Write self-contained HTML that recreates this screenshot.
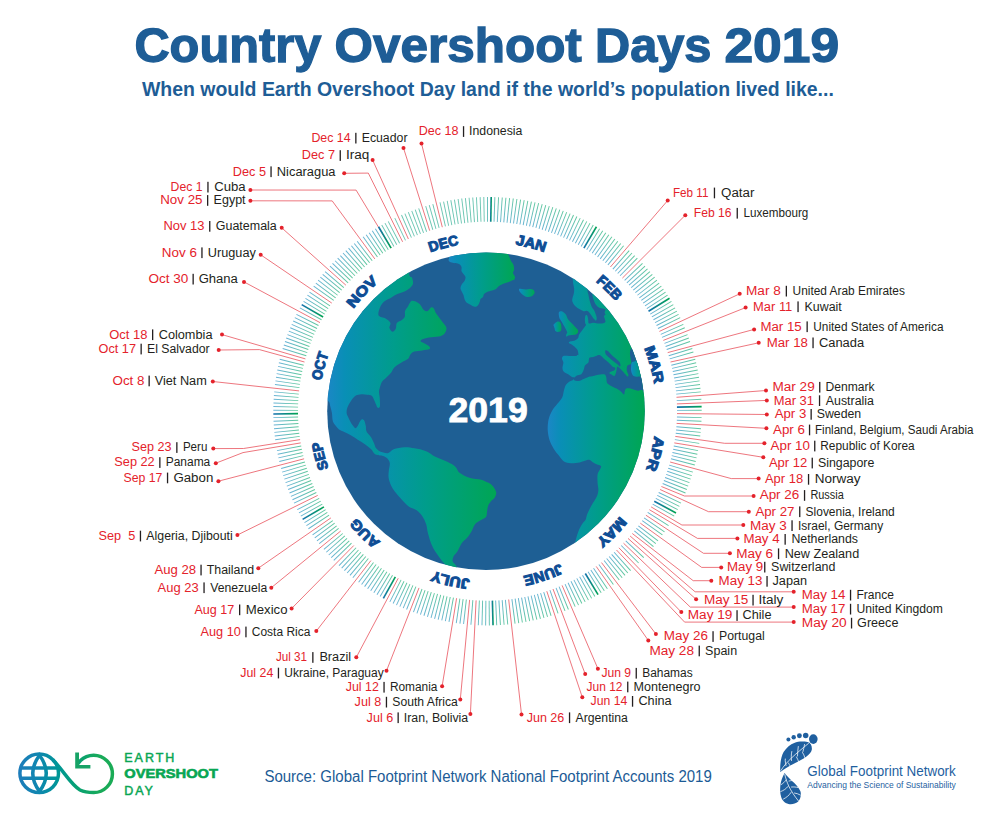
<!DOCTYPE html>
<html><head><meta charset="utf-8"><title>Country Overshoot Days 2019</title>
<style>html,body{margin:0;padding:0;background:#fff;width:1000px;height:815px;overflow:hidden}svg{display:block;font-family:"Liberation Sans",sans-serif}</style>
</head><body>
<svg width="1000" height="815" viewBox="0 0 1000 815">
<defs><linearGradient id="tk" x1="0" y1="0" x2="1" y2="0"><stop offset="0" stop-color="#67b2d7"/><stop offset="1" stop-color="#5ec89a"/></linearGradient><linearGradient id="tkd" x1="0" y1="0" x2="1" y2="0"><stop offset="0" stop-color="#1672b1"/><stop offset="1" stop-color="#00a551"/></linearGradient><linearGradient id="gNA" gradientUnits="userSpaceOnUse" x1="327" y1="0" x2="462" y2="0"><stop offset="0" stop-color="#1b87c6"/><stop offset="0.13" stop-color="#098fb6"/><stop offset="0.5" stop-color="#009d8b"/><stop offset="1" stop-color="#00a651"/></linearGradient><linearGradient id="gSA" gradientUnits="userSpaceOnUse" x1="352" y1="0" x2="500" y2="0"><stop offset="0" stop-color="#1b87c6"/><stop offset="0.13" stop-color="#098fb6"/><stop offset="0.5" stop-color="#009d8b"/><stop offset="1" stop-color="#00a651"/></linearGradient><linearGradient id="gGL" gradientUnits="userSpaceOnUse" x1="448" y1="0" x2="516" y2="0"><stop offset="0" stop-color="#1b87c6"/><stop offset="0.13" stop-color="#098fb6"/><stop offset="0.5" stop-color="#009d8b"/><stop offset="1" stop-color="#00a651"/></linearGradient><linearGradient id="gIC" gradientUnits="userSpaceOnUse" x1="519" y1="0" x2="535" y2="0"><stop offset="0" stop-color="#1b87c6"/><stop offset="0.13" stop-color="#098fb6"/><stop offset="0.5" stop-color="#009d8b"/><stop offset="1" stop-color="#00a651"/></linearGradient><linearGradient id="gEU" gradientUnits="userSpaceOnUse" x1="548" y1="0" x2="646" y2="0"><stop offset="0" stop-color="#1b87c6"/><stop offset="0.13" stop-color="#098fb6"/><stop offset="0.5" stop-color="#009d8b"/><stop offset="1" stop-color="#00a651"/></linearGradient><linearGradient id="gUK" gradientUnits="userSpaceOnUse" x1="558" y1="0" x2="578" y2="0"><stop offset="0" stop-color="#1b87c6"/><stop offset="0.13" stop-color="#098fb6"/><stop offset="0.5" stop-color="#009d8b"/><stop offset="1" stop-color="#00a651"/></linearGradient><linearGradient id="gIR" gradientUnits="userSpaceOnUse" x1="553.5" y1="0" x2="561.5" y2="0"><stop offset="0" stop-color="#1b87c6"/><stop offset="0.13" stop-color="#098fb6"/><stop offset="0.5" stop-color="#009d8b"/><stop offset="1" stop-color="#00a651"/></linearGradient><linearGradient id="gAN" gradientUnits="userSpaceOnUse" x1="631" y1="0" x2="646" y2="0"><stop offset="0" stop-color="#1b87c6"/><stop offset="0.13" stop-color="#098fb6"/><stop offset="0.5" stop-color="#009d8b"/><stop offset="1" stop-color="#00a651"/></linearGradient><clipPath id="gc"><circle cx="486.0" cy="411.25" r="158.8"/></clipPath><linearGradient id="eod" x1="0" y1="0" x2="1" y2="0"><stop offset="0" stop-color="#1f78b8"/><stop offset="1" stop-color="#1aa85a"/></linearGradient><path id="mp" d="M487.5,242.39999999999998 A168.8,168.8 0 1 1 487.5,580.0 A168.8,168.8 0 1 1 487.5,242.39999999999998"/><linearGradient id="eodu" gradientUnits="userSpaceOnUse" x1="18" y1="0" x2="114" y2="0"><stop offset="0" stop-color="#1e7cbb"/><stop offset="0.22" stop-color="#0f87af"/><stop offset="0.42" stop-color="#009696"/><stop offset="0.6" stop-color="#06a074"/><stop offset="0.85" stop-color="#19aa5a"/><stop offset="1" stop-color="#1aab55"/></linearGradient></defs>
<rect width="1000" height="815" fill="#fff"/>
<g font-family="&quot;Liberation Sans&quot;, sans-serif" font-weight="bold" font-size="47.5" fill="#1e5d96" stroke="#1e5d96" stroke-width="1.3">
<text x="134.4" y="61.5" textLength="187.0" lengthAdjust="spacingAndGlyphs">Country</text>
<text x="334.6" y="61.5" textLength="247.2" lengthAdjust="spacingAndGlyphs">Overshoot</text>
<text x="595.0" y="61.5" textLength="116.4" lengthAdjust="spacingAndGlyphs">Days</text>
<text x="724.4" y="61.5" textLength="114.8" lengthAdjust="spacingAndGlyphs">2019</text>
</g>
<text x="142" y="96" font-family="&quot;Liberation Sans&quot;, sans-serif" font-weight="bold" font-size="20" fill="#1e5d96" textLength="691.8" lengthAdjust="spacingAndGlyphs">When would Earth Overshoot Day land if the world’s population lived like...</text>
<g fill="url(#tk)"><polygon points="487.97,221.70 487.97,197.00 487.03,197.00 487.03,221.70"/><polygon points="494.49,221.83 495.34,197.14 494.40,197.11 493.55,221.80"/><polygon points="497.75,221.98 499.03,197.31 498.09,197.26 496.81,221.93"/><polygon points="501.01,222.18 502.71,197.54 501.77,197.48 500.07,222.12"/><polygon points="504.26,222.44 506.38,197.83 505.45,197.75 503.32,222.36"/><polygon points="507.51,222.76 510.05,198.19 509.12,198.09 506.57,222.66"/><polygon points="510.75,223.13 513.72,198.61 512.78,198.50 509.81,223.02"/><polygon points="513.98,223.56 517.37,199.09 516.44,198.96 513.05,223.43"/><polygon points="517.21,224.04 521.02,199.64 520.09,199.49 516.28,223.90"/><polygon points="520.42,224.58 524.65,200.25 523.73,200.09 519.50,224.42"/><polygon points="523.63,225.18 528.28,200.92 527.36,200.74 522.71,225.00"/><polygon points="526.83,225.83 531.89,201.65 530.97,201.46 525.91,225.63"/><polygon points="530.01,226.53 535.49,202.45 534.58,202.24 529.10,226.32"/><polygon points="533.18,227.29 539.08,203.30 538.17,203.08 532.27,227.06"/><polygon points="536.34,228.10 542.65,204.22 541.74,203.98 535.44,227.86"/><polygon points="539.49,228.97 546.21,205.20 545.30,204.95 538.58,228.71"/><polygon points="542.62,229.89 549.74,206.24 548.84,205.97 541.72,229.62"/><polygon points="545.73,230.87 553.26,207.34 552.37,207.06 544.83,230.58"/><polygon points="548.83,231.90 556.76,208.51 555.87,208.20 547.94,231.59"/><polygon points="551.90,232.98 560.24,209.73 559.35,209.41 551.02,232.66"/><polygon points="554.96,234.11 563.70,211.01 562.82,210.68 554.08,233.78"/><polygon points="558.00,235.30 567.13,212.35 566.26,212.00 557.13,234.95"/><polygon points="561.02,236.54 570.54,213.75 569.68,213.39 560.15,236.18"/><polygon points="564.01,237.83 573.93,215.21 573.07,214.83 563.15,237.46"/><polygon points="566.99,239.18 577.29,216.73 576.44,216.34 566.13,238.78"/><polygon points="569.93,240.57 580.62,218.30 579.78,217.89 569.09,240.16"/><polygon points="572.86,242.01 583.93,219.93 583.09,219.51 572.02,241.59"/><polygon points="575.76,243.51 587.21,221.62 586.38,221.19 574.93,243.07"/><polygon points="578.63,245.05 590.46,223.37 589.63,222.92 577.81,244.60"/><polygon points="581.48,246.64 593.68,225.17 592.86,224.70 580.66,246.18"/><polygon points="587.09,249.98 600.02,228.93 599.22,228.44 586.29,249.49"/><polygon points="589.85,251.72 603.14,230.89 602.34,230.39 589.06,251.21"/><polygon points="592.58,253.50 606.22,232.91 605.44,232.39 591.79,252.98"/><polygon points="595.28,255.33 609.27,234.98 608.50,234.45 594.50,254.80"/><polygon points="597.94,257.21 612.29,237.10 611.52,236.56 597.18,256.67"/><polygon points="600.58,259.14 615.27,239.28 614.51,238.72 599.82,258.58"/><polygon points="603.18,261.10 618.21,241.50 617.46,240.93 602.43,260.53"/><polygon points="605.75,263.12 621.11,243.78 620.37,243.19 605.01,262.53"/><polygon points="608.28,265.17 623.97,246.10 623.25,245.51 607.55,264.58"/><polygon points="613.23,269.42 629.57,250.90 628.87,250.28 612.53,268.80"/><polygon points="615.65,271.60 632.31,253.37 631.62,252.73 614.96,270.97"/><polygon points="618.04,273.83 635.01,255.88 634.33,255.24 617.35,273.18"/><polygon points="620.38,276.10 637.66,258.45 636.99,257.79 619.71,275.44"/><polygon points="624.95,280.75 642.83,263.70 642.18,263.02 624.31,280.07"/><polygon points="627.18,283.14 645.34,266.40 644.71,265.71 626.54,282.45"/><polygon points="629.36,285.56 647.81,269.14 647.19,268.44 628.74,284.86"/><polygon points="631.51,288.02 650.24,271.92 649.62,271.21 630.89,287.31"/><polygon points="633.60,290.52 652.61,274.74 652.01,274.02 633.00,289.80"/><polygon points="635.66,293.05 654.93,277.60 654.35,276.87 635.07,292.32"/><polygon points="637.67,295.62 657.21,280.51 656.63,279.76 637.10,294.88"/><polygon points="639.64,298.22 659.43,283.45 658.87,282.69 639.08,297.47"/><polygon points="641.56,300.86 661.61,286.42 661.06,285.66 641.01,300.09"/><polygon points="643.44,303.53 663.73,289.44 663.19,288.67 642.90,302.75"/><polygon points="645.27,306.23 665.80,292.49 665.28,291.71 644.75,305.44"/><polygon points="647.05,308.96 667.82,295.58 667.31,294.79 646.54,308.17"/><polygon points="650.48,314.51 671.69,301.85 671.21,301.05 649.99,313.70"/><polygon points="652.12,317.33 673.54,305.04 673.08,304.22 651.65,316.51"/><polygon points="653.71,320.18 675.34,308.26 674.89,307.44 653.25,319.35"/><polygon points="655.25,323.05 677.09,311.51 676.65,310.68 654.81,322.22"/><polygon points="656.74,325.95 678.77,314.79 678.35,313.95 656.32,325.11"/><polygon points="658.19,328.88 680.41,318.09 680.00,317.25 657.77,328.03"/><polygon points="660.92,334.80 683.50,324.79 683.12,323.93 660.54,333.94"/><polygon points="662.21,337.80 684.96,328.17 684.59,327.31 661.84,336.93"/><polygon points="664.63,343.86 687.70,335.02 687.36,334.14 664.29,342.98"/><polygon points="665.76,346.91 688.98,338.48 688.66,337.59 665.44,346.03"/><polygon points="666.84,349.99 690.20,341.96 689.89,341.07 666.54,349.10"/><polygon points="668.84,356.20 692.46,348.97 692.19,348.08 668.57,355.30"/><polygon points="669.76,359.33 693.50,352.51 693.24,351.61 669.50,358.43"/><polygon points="671.44,365.64 695.40,359.64 695.17,358.73 671.21,364.72"/><polygon points="672.20,368.81 696.26,363.22 696.05,362.31 671.99,367.89"/><polygon points="672.90,371.99 697.05,366.82 696.86,365.91 672.70,371.08"/><polygon points="673.55,375.19 697.79,370.44 697.61,369.52 673.37,374.27"/><polygon points="674.14,378.40 698.46,374.06 698.29,373.14 673.98,377.47"/><polygon points="674.68,381.62 699.06,377.70 698.92,376.77 674.53,380.69"/><polygon points="675.16,384.84 699.61,381.35 699.48,380.42 675.03,383.91"/><polygon points="675.58,388.08 700.09,385.00 699.98,384.07 675.47,387.14"/><polygon points="675.95,391.32 700.51,388.67 700.41,387.73 675.85,390.38"/><polygon points="676.27,394.57 700.87,392.34 700.78,391.40 676.18,393.63"/><polygon points="676.73,401.07 701.39,399.69 701.34,398.75 676.68,400.13"/><polygon points="677.00,410.85 701.70,410.75 701.70,409.81 677.00,409.91"/><polygon points="676.90,417.38 701.59,418.12 701.62,417.18 676.93,416.44"/><polygon points="676.77,420.64 701.44,421.81 701.48,420.87 676.81,419.70"/><polygon points="676.33,427.15 700.95,429.16 701.02,428.23 676.41,426.21"/><polygon points="676.03,430.39 700.61,432.83 700.70,431.90 676.12,429.46"/><polygon points="675.67,433.64 700.20,436.50 700.31,435.57 675.78,432.70"/><polygon points="674.78,440.10 699.20,443.81 699.35,442.88 674.92,439.17"/><polygon points="673.68,446.53 697.96,451.07 698.13,450.15 673.85,445.61"/><polygon points="673.04,449.73 697.24,454.69 697.43,453.77 673.23,448.81"/><polygon points="672.35,452.92 696.46,458.30 696.66,457.38 672.56,452.00"/><polygon points="671.61,456.09 695.62,461.88 695.84,460.97 671.83,455.18"/><polygon points="670.81,459.26 694.71,465.46 694.95,464.55 671.04,458.35"/><polygon points="669.04,465.54 692.72,472.56 692.99,471.66 669.31,464.64"/><polygon points="668.08,468.65 691.64,476.08 691.92,475.19 668.36,467.76"/><polygon points="667.07,471.75 690.49,479.59 690.79,478.70 667.36,470.86"/><polygon points="666.00,474.84 689.28,483.07 689.60,482.19 666.31,473.95"/><polygon points="664.87,477.90 688.02,486.53 688.34,485.65 665.20,477.02"/><polygon points="663.70,480.94 686.69,489.98 687.03,489.10 664.04,480.07"/><polygon points="662.47,483.96 685.30,493.39 685.66,492.52 662.83,483.10"/><polygon points="658.48,492.90 680.80,503.49 681.20,502.64 658.89,492.05"/><polygon points="657.05,495.83 679.18,506.81 679.60,505.96 657.47,494.99"/><polygon points="655.57,498.74 677.51,510.09 677.94,509.26 656.00,497.90"/><polygon points="652.46,504.47 673.99,516.57 674.45,515.75 652.92,503.65"/><polygon points="647.42,512.86 668.30,526.06 668.80,525.27 647.93,512.07"/><polygon points="643.83,518.31 664.24,532.22 664.77,531.44 644.36,517.53"/><polygon points="641.96,520.98 662.13,535.24 662.67,534.47 642.51,520.21"/><polygon points="638.09,526.23 657.76,541.18 658.33,540.43 638.66,525.48"/><polygon points="636.09,528.81 655.50,544.09 656.08,543.35 636.67,528.07"/><polygon points="634.04,531.35 653.18,546.96 653.78,546.23 634.64,530.62"/><polygon points="625.43,541.15 643.45,558.04 644.09,557.35 626.07,540.46"/><polygon points="620.88,545.82 638.30,563.32 638.97,562.66 621.54,545.15"/><polygon points="613.75,552.52 630.25,570.90 630.95,570.27 614.45,551.89"/><polygon points="611.30,554.67 627.48,573.33 628.19,572.72 612.01,554.06"/><polygon points="608.81,556.78 624.67,575.72 625.39,575.12 609.53,556.18"/><polygon points="606.29,558.85 621.82,578.06 622.55,577.47 607.02,558.26"/><polygon points="603.73,560.87 618.92,580.34 619.66,579.77 604.47,560.29"/><polygon points="598.51,564.78 613.02,584.77 613.78,584.22 599.27,564.23"/><polygon points="593.15,568.51 606.97,588.99 607.75,588.46 593.93,567.99"/><polygon points="590.43,570.31 603.90,591.02 604.68,590.50 591.22,569.80"/><polygon points="587.67,572.06 600.78,592.99 601.58,592.49 588.47,571.56"/><polygon points="582.08,575.41 594.46,596.78 595.27,596.31 582.89,574.94"/><polygon points="579.24,577.01 591.25,598.60 592.07,598.14 580.06,576.56"/><polygon points="576.37,578.57 588.01,600.36 588.84,599.91 577.20,578.13"/><polygon points="573.48,580.07 584.74,602.06 585.57,601.63 574.31,579.65"/><polygon points="570.56,581.53 581.44,603.70 582.28,603.29 571.40,581.12"/><polygon points="567.61,582.93 578.11,605.29 578.96,604.89 568.46,582.53"/><polygon points="564.64,584.29 574.76,606.82 575.61,606.44 565.50,583.90"/><polygon points="558.64,586.84 567.97,609.71 568.84,609.36 559.51,586.49"/><polygon points="555.61,588.04 564.54,611.07 565.42,610.73 556.48,587.70"/><polygon points="549.48,590.28 557.62,613.60 558.50,613.29 550.37,589.97"/><polygon points="543.28,592.31 550.61,615.89 551.50,615.61 544.18,592.03"/><polygon points="540.15,593.24 547.07,616.95 547.98,616.69 541.05,592.98"/><polygon points="537.01,594.12 543.52,617.94 544.43,617.70 537.92,593.87"/><polygon points="533.86,594.94 539.96,618.88 540.87,618.65 534.77,594.71"/><polygon points="530.69,595.71 536.37,619.75 537.29,619.53 531.60,595.50"/><polygon points="527.50,596.43 532.78,620.56 533.70,620.36 528.42,596.23"/><polygon points="524.31,597.09 529.17,621.31 530.09,621.12 525.23,596.91"/><polygon points="521.10,597.70 525.54,622.00 526.47,621.83 522.03,597.53"/><polygon points="517.89,598.25 521.91,622.62 522.84,622.47 518.82,598.10"/><polygon points="514.66,598.74 518.27,623.18 519.20,623.04 515.59,598.61"/><polygon points="511.43,599.18 514.61,623.68 515.54,623.56 512.36,599.06"/><polygon points="504.95,599.90 507.28,624.49 508.22,624.40 505.88,599.81"/><polygon points="501.70,600.17 503.61,624.79 504.54,624.72 502.63,600.10"/><polygon points="498.44,600.38 499.93,625.04 500.87,624.98 499.38,600.33"/><polygon points="495.18,600.54 496.25,625.22 497.18,625.18 496.12,600.50"/><polygon points="488.66,600.70 488.87,625.40 489.81,625.39 489.60,600.69"/><polygon points="485.40,600.69 485.19,625.39 486.13,625.40 486.34,600.70"/><polygon points="482.14,600.62 481.50,625.32 482.44,625.34 483.08,600.65"/><polygon points="478.88,600.50 477.82,625.18 478.75,625.22 479.82,600.54"/><polygon points="472.37,600.10 470.46,624.72 471.39,624.79 473.30,600.17"/><polygon points="465.87,599.46 463.12,624.01 464.05,624.11 466.81,599.57"/><polygon points="462.64,599.06 459.46,623.56 460.39,623.68 463.57,599.18"/><polygon points="459.41,598.61 455.80,623.04 456.73,623.18 460.34,598.74"/><polygon points="452.97,597.53 448.53,621.83 449.46,622.00 453.90,597.70"/><polygon points="449.77,596.91 444.91,621.12 445.83,621.31 450.69,597.09"/><polygon points="446.58,596.23 441.30,620.36 442.22,620.56 447.50,596.43"/><polygon points="443.40,595.50 437.71,619.53 438.63,619.75 444.31,595.71"/><polygon points="440.23,594.71 434.13,618.65 435.04,618.88 441.14,594.94"/><polygon points="437.08,593.87 430.57,617.70 431.48,617.94 437.99,594.12"/><polygon points="433.95,592.98 427.02,616.69 427.93,616.95 434.85,593.24"/><polygon points="430.82,592.03 423.50,615.61 424.39,615.89 431.72,592.31"/><polygon points="427.72,591.02 419.99,614.48 420.88,614.78 428.61,591.32"/><polygon points="424.63,589.97 416.50,613.29 417.38,613.60 425.52,590.28"/><polygon points="421.57,588.86 413.03,612.04 413.91,612.36 422.45,589.18"/><polygon points="415.49,586.49 406.16,609.36 407.03,609.71 416.36,586.84"/><polygon points="412.48,585.22 402.76,607.93 403.63,608.30 413.35,585.59"/><polygon points="409.50,583.90 399.39,606.44 400.24,606.82 410.36,584.29"/><polygon points="406.54,582.53 396.04,604.89 396.89,605.29 407.39,582.93"/><polygon points="403.60,581.12 392.72,603.29 393.56,603.70 404.44,581.53"/><polygon points="400.69,579.65 389.43,601.63 390.26,602.06 401.52,580.07"/><polygon points="392.11,574.94 379.73,596.31 380.54,596.78 392.92,575.41"/><polygon points="389.30,573.27 376.56,594.43 377.36,594.92 390.11,573.76"/><polygon points="386.53,571.56 373.42,592.49 374.22,592.99 387.33,572.06"/><polygon points="383.78,569.80 370.32,590.50 371.10,591.02 384.57,570.31"/><polygon points="381.07,567.99 367.25,588.46 368.03,588.99 381.85,568.51"/><polygon points="378.39,566.13 364.21,586.36 364.98,586.90 379.16,566.67"/><polygon points="375.73,564.23 361.22,584.22 361.98,584.77 376.49,564.78"/><polygon points="373.12,562.29 358.26,582.02 359.01,582.58 373.87,562.85"/><polygon points="367.98,558.26 352.45,577.47 353.18,578.06 368.71,558.85"/><polygon points="365.47,556.18 349.61,575.12 350.33,575.72 366.19,556.78"/><polygon points="362.99,554.06 346.81,572.72 347.52,573.33 363.70,554.67"/><polygon points="360.55,551.89 344.05,570.27 344.75,570.90 361.25,552.52"/><polygon points="358.15,549.69 341.33,567.78 342.02,568.42 358.84,550.33"/><polygon points="355.78,547.44 338.66,565.24 339.34,565.89 356.46,548.09"/><polygon points="351.17,542.83 333.45,560.03 334.10,560.70 351.83,543.50"/><polygon points="348.93,540.46 330.91,557.35 331.55,558.04 349.57,541.15"/><polygon points="346.72,538.06 328.41,554.64 329.05,555.33 347.35,538.75"/><polygon points="344.56,535.61 325.97,551.88 326.59,552.58 345.18,536.32"/><polygon points="342.44,533.13 323.57,549.07 324.18,549.79 343.05,533.85"/><polygon points="338.33,528.07 318.92,543.35 319.50,544.09 338.91,528.81"/><polygon points="336.34,525.48 316.67,540.43 317.24,541.18 336.91,526.23"/><polygon points="334.39,522.86 314.47,537.47 315.03,538.23 334.95,523.62"/><polygon points="332.49,520.21 312.33,534.47 312.87,535.24 333.04,520.98"/><polygon points="328.83,514.81 308.19,528.37 308.70,529.16 329.35,515.60"/><polygon points="327.07,512.07 306.20,525.27 306.70,526.06 327.58,512.86"/><polygon points="325.36,509.29 304.26,522.13 304.75,522.93 325.85,510.09"/><polygon points="322.08,503.65 300.55,515.75 301.01,516.57 322.54,504.47"/><polygon points="320.51,500.79 298.78,512.52 299.22,513.35 320.96,501.62"/><polygon points="319.00,497.90 297.06,509.26 297.49,510.09 319.43,498.74"/><polygon points="316.11,492.05 293.80,502.64 294.20,503.49 316.52,492.90"/><polygon points="314.75,489.09 292.25,499.30 292.64,500.15 315.13,489.94"/><polygon points="313.43,486.10 290.77,495.92 291.14,496.78 313.80,486.97"/><polygon points="312.17,483.10 289.34,492.52 289.70,493.39 312.53,483.96"/><polygon points="310.96,480.07 287.97,489.10 288.31,489.98 311.30,480.94"/><polygon points="309.80,477.02 286.66,485.65 286.98,486.53 310.13,477.90"/><polygon points="308.69,473.95 285.40,482.19 285.72,483.07 309.00,474.84"/><polygon points="307.64,470.86 284.21,478.70 284.51,479.59 307.93,471.75"/><polygon points="306.64,467.76 283.08,475.19 283.36,476.08 306.92,468.65"/><polygon points="305.69,464.64 282.01,471.66 282.28,472.56 305.96,465.54"/><polygon points="304.80,461.50 281.00,468.11 281.25,469.02 305.05,462.40"/><polygon points="303.17,455.18 279.16,460.97 279.38,461.88 303.39,456.09"/><polygon points="302.44,452.00 278.34,457.38 278.54,458.30 302.65,452.92"/><polygon points="301.77,448.81 277.57,453.77 277.76,454.69 301.96,449.73"/><polygon points="301.15,445.61 276.87,450.15 277.04,451.07 301.32,446.53"/><polygon points="299.62,435.94 275.14,439.23 275.27,440.16 299.75,436.87"/><polygon points="299.22,432.70 274.69,435.57 274.80,436.50 299.33,433.64"/><polygon points="298.88,429.46 274.30,431.90 274.39,432.83 298.97,430.39"/><polygon points="298.59,426.21 273.98,428.23 274.05,429.16 298.67,427.15"/><polygon points="298.36,422.96 273.72,424.55 273.78,425.49 298.43,423.89"/><polygon points="298.19,419.70 273.52,420.87 273.56,421.81 298.23,420.64"/><polygon points="298.07,416.44 273.38,417.18 273.41,418.12 298.10,417.38"/><polygon points="298.00,409.91 273.30,409.81 273.30,410.75 298.00,410.85"/><polygon points="298.05,406.65 273.36,406.12 273.34,407.06 298.03,407.59"/><polygon points="298.16,403.39 273.48,402.44 273.44,403.38 298.12,404.33"/><polygon points="298.32,400.13 273.66,398.75 273.61,399.69 298.27,401.07"/><polygon points="298.54,396.88 273.91,395.07 273.84,396.01 298.47,397.82"/><polygon points="298.82,393.63 274.22,391.40 274.13,392.34 298.73,394.57"/><polygon points="299.53,387.14 275.02,384.07 274.91,385.00 299.42,388.08"/><polygon points="299.97,383.91 275.52,380.42 275.39,381.35 299.84,384.84"/><polygon points="300.47,380.69 276.08,376.77 275.94,377.70 300.32,381.62"/><polygon points="301.02,377.47 276.71,373.14 276.54,374.06 300.86,378.40"/><polygon points="301.63,374.27 277.39,369.52 277.21,370.44 301.45,375.19"/><polygon points="302.30,371.08 278.14,365.91 277.95,366.82 302.10,371.99"/><polygon points="303.01,367.89 278.95,362.31 278.74,363.22 302.80,368.81"/><polygon points="303.79,364.72 279.83,358.73 279.60,359.64 303.56,365.64"/><polygon points="306.43,355.30 282.81,348.08 282.54,348.97 306.16,356.20"/><polygon points="307.42,352.19 283.93,344.56 283.64,345.46 307.13,353.09"/><polygon points="308.46,349.10 285.11,341.07 284.80,341.96 308.16,349.99"/><polygon points="309.56,346.03 286.34,337.59 286.02,338.48 309.24,346.91"/><polygon points="310.71,342.98 287.64,334.14 287.30,335.02 310.37,343.86"/><polygon points="311.91,339.94 289.00,330.71 288.64,331.59 311.56,340.82"/><polygon points="313.16,336.93 290.41,327.31 290.04,328.17 312.79,337.80"/><polygon points="314.46,333.94 291.88,323.93 291.50,324.79 314.08,334.80"/><polygon points="315.82,330.98 293.42,320.57 293.02,321.43 315.42,331.83"/><polygon points="317.23,328.03 295.00,317.25 294.59,318.09 316.81,328.88"/><polygon points="318.68,325.11 296.65,313.95 296.23,314.79 318.26,325.95"/><polygon points="321.75,319.35 300.11,307.44 299.66,308.26 321.29,320.18"/><polygon points="325.01,313.70 303.79,301.05 303.31,301.85 324.52,314.51"/><polygon points="326.71,310.92 305.72,297.90 305.22,298.70 326.21,311.72"/><polygon points="328.46,308.17 307.69,294.79 307.18,295.58 327.95,308.96"/><polygon points="330.25,305.44 309.72,291.71 309.20,292.49 329.73,306.23"/><polygon points="333.99,300.09 313.94,285.66 313.39,286.42 333.44,300.86"/><polygon points="335.92,297.47 316.13,282.69 315.57,283.45 335.36,298.22"/><polygon points="337.90,294.88 318.37,279.76 317.79,280.51 337.33,295.62"/><polygon points="339.93,292.32 320.65,276.87 320.07,277.60 339.34,293.05"/><polygon points="342.00,289.80 322.99,274.02 322.39,274.74 341.40,290.52"/><polygon points="344.11,287.31 325.38,271.21 324.76,271.92 343.49,288.02"/><polygon points="348.46,282.45 330.29,265.71 329.66,266.40 347.82,283.14"/><polygon points="350.69,280.07 332.82,263.02 332.17,263.70 350.05,280.75"/><polygon points="352.97,277.74 335.39,260.38 334.73,261.05 352.31,278.41"/><polygon points="355.29,275.44 338.01,257.79 337.34,258.45 354.62,276.10"/><polygon points="357.65,273.18 340.67,255.24 339.99,255.88 356.96,273.83"/><polygon points="360.04,270.97 343.38,252.73 342.69,253.37 359.35,271.60"/><polygon points="362.47,268.80 346.13,250.28 345.43,250.90 361.77,269.42"/><polygon points="364.94,266.67 348.92,247.87 348.21,248.48 364.23,267.28"/><polygon points="367.45,264.58 351.75,245.51 351.03,246.10 366.72,265.17"/><polygon points="369.99,262.53 354.63,243.19 353.89,243.78 369.25,263.12"/><polygon points="372.57,260.53 357.54,240.93 356.79,241.50 371.82,261.10"/><polygon points="377.82,256.67 363.48,236.56 362.71,237.10 377.06,257.21"/><polygon points="380.50,254.80 366.50,234.45 365.73,234.98 379.72,255.33"/><polygon points="383.21,252.98 369.56,232.39 368.78,232.91 382.42,253.50"/><polygon points="385.94,251.21 372.66,230.39 371.86,230.89 385.15,251.72"/><polygon points="388.71,249.49 375.78,228.44 374.98,228.93 387.91,249.98"/></g>
<g fill="#6cc6b3"><polygon points="394.34,246.18 382.14,224.70 381.32,225.17 393.52,246.64"/><polygon points="397.19,244.60 385.37,222.92 384.54,223.37 396.37,245.05"/><polygon points="400.07,243.07 388.62,221.19 387.79,221.62 399.24,243.51"/><polygon points="405.91,240.16 395.22,217.89 394.38,218.30 405.07,240.57"/><polygon points="411.85,237.46 401.93,214.83 401.07,215.21 410.99,237.83"/><polygon points="414.85,236.18 405.32,213.39 404.46,213.75 413.98,236.54"/><polygon points="417.87,234.95 408.74,212.00 407.87,212.35 417.00,235.30"/><polygon points="420.92,233.78 412.18,210.68 411.30,211.01 420.04,234.11"/><polygon points="423.98,232.66 415.65,209.41 414.76,209.73 423.10,232.98"/><polygon points="427.06,231.59 419.13,208.20 418.24,208.51 426.17,231.90"/><polygon points="433.28,229.62 426.16,205.97 425.26,206.24 432.38,229.89"/><polygon points="436.42,228.71 429.70,204.95 428.79,205.20 435.51,228.97"/><polygon points="439.56,227.86 433.26,203.98 432.35,204.22 438.66,228.10"/><polygon points="445.90,226.32 440.42,202.24 439.51,202.45 444.99,226.53"/><polygon points="449.09,225.63 444.03,201.46 443.11,201.65 448.17,225.83"/><polygon points="452.29,225.00 447.64,200.74 446.72,200.92 451.37,225.18"/><polygon points="455.50,224.42 451.27,200.09 450.35,200.25 454.58,224.58"/><polygon points="458.72,223.90 454.91,199.49 453.98,199.64 457.79,224.04"/><polygon points="461.95,223.43 458.56,198.96 457.63,199.09 461.02,223.56"/><polygon points="465.19,223.02 462.22,198.50 461.28,198.61 464.25,223.13"/><polygon points="468.43,222.66 465.88,198.09 464.95,198.19 467.49,222.76"/><polygon points="471.68,222.36 469.55,197.75 468.62,197.83 470.74,222.44"/><polygon points="474.93,222.12 473.23,197.48 472.29,197.54 473.99,222.18"/><polygon points="478.19,221.93 476.91,197.26 475.97,197.31 477.25,221.98"/><polygon points="481.45,221.80 480.60,197.11 479.66,197.14 480.51,221.83"/><polygon points="484.71,221.72 484.28,197.02 483.34,197.04 483.77,221.74"/></g>
<circle cx="486.0" cy="411.25" r="158.8" fill="#1e5f94"/>
<g clip-path="url(#gc)">
<path d="M320.0,250.0C334.8,225.0 394.1,246.0 409.0,250.0C423.9,254.0 408.6,269.2 409.1,273.8C409.6,278.4 411.4,276.2 412.0,277.8C412.6,279.4 413.3,281.9 413.0,283.6C412.7,285.3 411.6,286.6 410.0,288.0C408.4,289.4 405.3,291.0 403.2,292.0C401.1,293.0 399.3,293.1 397.3,294.0C395.3,294.9 393.5,296.2 391.4,297.4C389.3,298.6 386.4,299.7 384.5,301.3C382.6,302.9 381.1,304.8 380.1,307.2C379.1,309.6 377.7,313.6 378.6,315.5C379.5,317.4 383.5,317.3 385.5,318.5C387.5,319.7 389.8,321.3 390.4,322.9C391.0,324.4 389.1,326.3 389.4,327.8C389.7,329.3 391.3,331.5 392.4,331.7C393.5,331.9 395.1,330.3 395.8,328.8C396.5,327.3 395.9,324.3 396.8,322.9C397.7,321.5 399.9,321.4 401.2,320.4C402.5,319.4 404.0,318.6 404.7,317.0C405.4,315.4 404.5,312.9 405.1,311.1C405.7,309.3 407.1,307.8 408.1,306.2C409.1,304.6 409.9,302.1 411.0,301.3C412.1,300.5 413.5,300.8 415.0,301.3C416.5,301.8 418.4,302.8 419.9,304.3C421.4,305.8 422.5,309.0 423.8,310.1C425.1,311.2 426.6,311.5 427.7,311.1C428.8,310.7 429.7,308.2 430.7,307.7C431.7,307.2 432.6,307.1 433.6,308.2C434.6,309.3 435.0,311.8 436.5,314.1C438.0,316.4 440.8,319.6 442.4,321.9C444.0,324.2 446.1,325.8 446.4,327.8C446.7,329.8 445.7,332.2 444.4,333.7C443.1,335.2 441.1,336.0 438.5,336.6C435.9,337.2 431.5,337.1 428.7,337.6C425.9,338.1 423.1,339.0 421.8,339.6C420.5,340.2 420.4,340.9 420.8,341.5C421.2,342.1 422.8,342.4 424.2,343.2C425.6,344.0 428.2,345.2 429.1,346.2C430.0,347.2 430.6,348.4 429.5,349.1C428.4,349.8 424.7,350.1 422.2,350.5C419.7,350.9 416.3,350.9 414.3,351.5C412.3,352.1 411.4,353.2 410.4,354.4C409.4,355.5 409.5,357.2 408.4,358.4C407.2,359.5 405.1,360.3 403.5,361.3C401.9,362.3 400.2,363.2 398.6,364.3C397.0,365.4 395.0,366.7 393.7,368.2C392.4,369.7 392.1,371.5 390.8,373.1C389.5,374.7 387.4,376.6 385.9,378.0C384.4,379.4 383.0,380.2 382.0,381.8C381.0,383.4 380.3,386.0 379.8,387.7C379.3,389.4 379.0,390.2 379.0,392.1C379.0,394.0 379.7,396.6 379.8,399.0C379.9,401.4 380.2,405.4 379.8,406.8C379.4,408.2 378.1,408.0 377.5,407.6C376.9,407.2 376.7,406.0 376.1,404.6C375.5,403.2 374.6,401.0 373.9,399.5C373.2,398.0 372.8,396.6 371.7,395.8C370.6,395.0 368.9,394.9 367.2,394.7C365.5,394.4 363.2,394.1 361.3,394.3C359.4,394.5 357.2,394.7 355.5,395.8C353.8,396.9 352.4,398.9 351.0,400.9C349.6,402.9 348.1,405.6 347.4,407.6C346.7,409.6 346.5,411.1 346.6,412.7C346.7,414.3 347.5,415.6 348.1,417.1C348.7,418.6 349.5,420.0 350.3,421.5C351.1,423.0 352.3,424.9 353.2,426.0C354.1,427.1 354.8,428.2 355.5,428.2C356.2,428.2 357.0,427.1 357.7,426.0C358.4,424.9 359.2,422.6 359.9,421.5C360.6,420.4 361.4,419.4 362.1,419.3C362.8,419.2 363.7,419.7 364.3,420.8C364.9,421.9 365.5,424.5 365.8,426.0C366.1,427.5 365.8,428.8 366.1,430.0C366.4,431.2 366.6,431.8 367.5,433.0C368.4,434.2 370.1,435.8 371.2,437.5C372.3,439.2 373.3,441.6 374.1,443.4C374.9,445.2 375.0,446.8 376.1,448.3C377.2,449.8 379.5,451.3 381.0,452.2C382.5,453.1 384.5,453.0 385.0,453.6C385.5,454.2 384.7,455.3 384.0,455.6C383.3,455.9 382.5,455.4 381.0,455.2C379.5,455.0 376.7,455.2 375.1,454.2C373.5,453.2 372.8,450.9 371.2,449.3C369.6,447.7 367.6,446.0 365.3,444.4C363.0,442.8 360.3,441.2 357.4,439.4C354.4,437.6 350.5,435.2 347.6,433.6C344.7,432.0 341.6,430.9 340.0,430.0C338.4,429.1 338.8,429.2 337.8,428.2C336.8,427.2 335.0,425.1 334.1,423.8C333.2,422.5 333.0,422.0 332.6,420.1C332.2,418.2 332.3,414.9 331.9,412.7C331.5,410.5 331.0,408.8 330.4,406.8C329.8,404.8 329.9,402.0 328.2,400.9C326.5,399.8 321.4,425.1 320.0,400.0C318.6,374.9 305.2,275.0 320.0,250.0Z" fill="url(#gNA)"/>
<path d="M379.5,451.8C381.0,451.5 385.4,453.6 387.8,453.2C390.2,452.8 390.9,450.3 393.7,449.3C396.5,448.3 401.1,447.5 404.5,447.3C407.9,447.1 410.7,447.7 414.3,448.3C417.9,448.9 422.5,449.7 426.1,451.2C429.7,452.7 432.3,455.3 435.9,457.1C439.5,458.9 444.4,460.4 447.7,462.0C451.0,463.6 453.6,465.1 455.6,466.9C457.6,468.7 457.2,471.0 459.5,472.8C461.8,474.6 465.7,476.6 469.3,477.7C472.9,478.8 478.3,479.0 481.1,479.7C483.9,480.4 484.5,481.0 486.0,481.7C487.5,482.4 488.6,482.6 489.9,483.6C491.2,484.6 492.8,486.0 493.8,487.5C494.9,489.0 496.0,490.9 496.2,492.5C496.4,494.1 495.7,495.9 494.8,497.4C493.9,498.9 492.0,499.8 490.9,501.3C489.8,502.8 488.6,504.4 488.0,506.2C487.4,508.0 487.3,510.3 487.0,512.1C486.7,513.9 487.0,515.7 486.0,517.0C485.0,518.3 482.9,518.8 481.1,519.9C479.3,521.0 476.8,521.9 475.2,523.9C473.6,525.9 472.6,529.4 471.3,531.7C470.0,534.0 468.9,535.6 467.3,537.6C465.7,539.6 463.1,541.2 461.5,543.5C459.9,545.8 458.8,549.2 457.5,551.3C456.2,553.4 454.4,554.6 453.6,556.3C452.8,557.9 452.3,559.7 452.6,561.2C452.9,562.7 454.8,563.6 455.6,565.1C456.4,566.6 457.1,567.9 457.5,570.0C457.9,572.1 459.4,576.7 458.0,578.0C456.6,579.3 450.4,579.3 449.0,578.0C447.6,576.7 449.9,571.8 449.7,570.0C449.5,568.2 448.7,568.1 447.7,567.0C446.7,565.9 445.4,565.1 443.8,563.1C442.2,561.1 439.9,558.2 437.9,555.3C435.9,552.4 433.6,549.1 432.0,545.5C430.4,541.9 429.1,537.3 428.1,533.7C427.1,530.1 427.1,526.9 426.1,523.9C425.1,520.9 423.8,518.3 422.2,516.0C420.6,513.7 418.6,511.7 416.3,510.1C414.0,508.5 411.0,508.2 408.4,506.2C405.8,504.2 403.2,501.2 400.6,498.3C398.0,495.4 394.7,491.8 392.7,488.5C390.7,485.2 389.4,481.6 388.8,478.7C388.2,475.8 388.6,473.5 388.8,470.9C389.0,468.3 390.1,465.1 389.8,463.0C389.5,460.9 388.2,459.4 386.9,458.1C385.6,456.8 383.3,455.9 382.0,455.4C380.7,454.9 379.4,455.6 379.0,455.0C378.6,454.4 378.0,452.1 379.5,451.8Z" fill="url(#gSA)"/>
<path d="M449.0,252.0C449.0,253.8 449.1,257.2 449.0,258.5C448.9,259.8 448.3,259.4 448.5,260.0C448.7,260.6 449.1,261.5 450.0,262.0C450.9,262.5 452.5,262.7 454.0,263.0C455.5,263.3 457.8,263.3 459.0,264.0C460.2,264.7 461.1,265.8 461.5,267.0C461.9,268.2 461.2,269.8 461.5,271.0C461.8,272.2 462.8,273.0 463.5,274.0C464.2,275.0 465.3,275.8 465.5,277.0C465.7,278.2 465.1,279.8 464.5,281.0C463.9,282.2 462.7,282.8 462.0,284.0C461.3,285.2 460.6,286.8 460.5,288.0C460.4,289.2 461.0,289.8 461.5,291.0C462.0,292.2 463.0,293.7 463.5,295.0C464.0,296.3 464.0,297.8 464.5,299.0C465.0,300.2 465.6,301.6 466.5,302.5C467.4,303.4 468.8,303.8 470.0,304.5C471.2,305.2 472.9,306.2 474.0,306.5C475.1,306.8 475.8,306.8 476.5,306.5C477.2,306.2 477.9,305.4 478.5,304.5C479.1,303.6 479.7,301.9 480.0,301.0C480.3,300.1 480.0,299.7 480.5,299.0C481.0,298.3 482.4,297.8 483.0,297.0C483.6,296.2 483.3,294.8 484.0,294.0C484.7,293.2 485.7,292.6 487.0,292.0C488.3,291.4 490.5,291.0 492.0,290.5C493.5,290.0 494.8,289.8 496.0,289.0C497.2,288.2 497.7,286.9 499.0,286.0C500.3,285.1 502.2,284.2 504.0,283.5C505.8,282.8 508.5,282.1 510.0,281.5C511.5,280.9 512.3,280.2 513.0,280.0C513.7,279.8 513.7,280.5 514.0,280.0C514.3,279.5 515.2,278.2 515.0,277.0C514.8,275.8 513.2,274.2 513.0,273.0C512.8,271.8 513.9,271.3 514.0,270.0C514.1,268.7 514.0,266.5 513.5,265.0C513.0,263.5 511.8,262.5 511.0,261.0C510.2,259.5 509.7,257.5 509.0,256.0C508.3,254.5 507.3,253.3 507.0,252.0C506.7,250.7 516.7,248.7 507.0,248.0C497.3,247.3 458.7,247.3 449.0,248.0C439.3,248.7 449.0,250.2 449.0,252.0Z" fill="url(#gGL)"/>
<path d="M519.0,289.0C518.7,289.5 519.3,291.0 520.0,292.0C520.7,293.0 521.8,294.2 523.0,295.0C524.2,295.8 525.5,296.8 527.0,297.0C528.5,297.2 530.8,296.7 532.0,296.0C533.2,295.3 534.2,294.0 534.5,293.0C534.8,292.0 534.2,290.7 533.5,290.0C532.8,289.3 531.2,289.1 530.0,289.0C528.8,288.9 527.3,289.5 526.0,289.5C524.7,289.5 523.2,289.1 522.0,289.0C520.8,288.9 519.3,288.5 519.0,289.0Z" fill="url(#gIC)"/>
<path d="M572.0,276.4C570.8,276.9 572.5,277.8 572.7,279.0C572.9,280.2 573.0,282.2 573.2,283.8C573.5,285.4 574.1,287.2 574.2,288.9C574.3,290.6 574.0,292.5 573.7,294.1C573.4,295.7 572.6,297.3 572.4,298.5C572.2,299.7 572.1,300.4 572.4,301.5C572.7,302.6 573.4,304.0 574.2,305.1C575.1,306.2 576.3,307.3 577.5,308.1C578.7,308.9 580.1,309.4 581.2,309.9C582.3,310.4 583.4,311.1 584.3,311.2C585.2,311.3 585.7,310.6 586.4,310.7C587.1,310.8 587.8,311.0 588.6,311.8C589.5,312.6 590.6,314.2 591.5,315.4C592.4,316.6 593.4,318.2 594.1,319.1C594.8,320.0 595.5,320.9 595.9,320.7C596.3,320.5 596.8,319.1 596.7,318.0C596.7,316.9 596.0,315.3 595.6,314.0C595.2,312.7 594.7,311.4 594.1,310.3C593.5,309.2 592.5,308.5 591.9,307.3C591.3,306.1 590.8,304.7 590.4,303.3C590.0,301.9 589.6,300.6 589.3,299.2C589.0,297.8 588.7,296.1 588.4,294.8C588.1,293.5 587.7,292.8 587.5,291.3C587.3,289.8 588.4,288.6 587.1,286.0C585.9,283.4 582.5,277.6 580.0,276.0C577.5,274.4 573.2,275.9 572.0,276.4Z" fill="url(#gEU)"/>
<path d="M592.0,285.0C589.1,288.1 592.3,291.5 592.4,293.5C592.5,295.5 592.5,295.7 592.8,297.0C593.1,298.3 593.6,299.8 594.1,301.1C594.6,302.4 595.0,303.7 595.9,304.8C596.8,305.9 598.0,307.1 599.2,307.7C600.4,308.3 602.3,308.2 603.3,308.5C604.3,308.8 605.2,309.1 605.4,309.7C605.6,310.3 604.6,311.6 604.6,312.4C604.6,313.2 605.7,314.0 605.6,314.6C605.5,315.2 604.1,315.4 604.0,316.2C603.9,316.9 604.6,318.1 604.8,319.1C605.0,320.1 605.8,321.4 605.4,322.1C605.0,322.8 603.5,323.3 602.2,323.5C600.9,323.7 598.9,323.6 597.4,323.5C595.9,323.4 594.4,322.8 593.0,322.8C591.6,322.8 589.7,324.0 588.9,323.5C588.1,323.0 588.4,321.1 588.2,319.9C588.0,318.7 587.8,317.0 587.5,316.2C587.2,315.4 586.8,315.1 586.4,315.1C586.0,315.1 585.5,315.4 585.3,316.2C585.0,317.0 584.9,318.7 584.9,319.9C584.9,321.1 585.1,322.6 585.3,323.5C585.5,324.4 586.3,324.2 586.0,325.0C585.7,325.8 584.4,327.2 583.7,328.2C583.0,329.1 582.5,329.9 581.9,330.7C581.3,331.5 580.6,332.3 580.1,333.1C579.6,333.9 579.1,334.8 578.8,335.6C578.5,336.4 578.7,337.3 578.2,338.0C577.7,338.7 576.7,339.4 575.8,339.9C574.9,340.4 573.7,340.8 572.7,341.1C571.7,341.4 570.2,341.4 569.6,341.7C569.0,342.0 568.6,342.4 569.0,342.9C569.4,343.4 571.0,344.0 572.1,344.8C573.2,345.6 574.9,347.0 575.8,347.9C576.7,348.8 577.2,348.8 577.6,350.0C578.0,351.2 578.6,354.0 578.3,355.0C578.0,356.0 577.4,355.8 575.9,355.9C574.4,356.0 571.3,355.9 569.2,355.9C567.1,355.9 564.6,355.4 563.4,355.9C562.2,356.4 562.0,357.7 562.0,358.8C562.0,359.9 563.3,361.0 563.4,362.6C563.5,364.2 562.3,366.8 562.5,368.4C562.7,370.0 563.4,371.2 564.4,372.2C565.4,373.2 566.9,373.4 568.2,374.2C569.5,375.0 571.1,376.4 572.1,377.0C573.1,377.6 574.4,377.0 574.5,377.5C574.6,378.0 573.9,379.3 573.0,380.0C572.1,380.7 570.4,381.0 569.2,381.8C568.0,382.6 566.7,383.6 565.8,385.0C564.9,386.4 564.6,388.3 564.0,390.3C563.4,392.3 563.4,394.9 562.3,397.2C561.2,399.5 558.9,401.8 557.2,404.1C555.5,406.4 553.4,408.3 552.0,410.9C550.6,413.5 549.3,416.4 548.6,419.5C547.9,422.6 547.6,426.4 547.7,429.8C547.9,433.2 548.5,437.0 549.5,440.1C550.5,443.2 552.1,446.1 553.7,448.7C555.3,451.3 557.2,453.5 558.9,455.6C560.6,457.8 562.0,460.3 564.0,461.6C566.0,462.9 568.3,463.2 570.9,463.3C573.5,463.4 577.2,462.9 579.5,462.5C581.8,462.1 583.0,461.2 584.7,460.8C586.4,460.4 588.4,459.6 589.8,459.9C591.2,460.2 592.1,461.8 593.3,462.5C594.4,463.2 595.4,463.6 596.7,464.2C598.0,464.8 600.4,465.0 601.0,465.9C601.6,466.8 600.7,467.9 600.1,469.3C599.5,470.7 598.0,472.2 597.6,474.5C597.2,476.8 597.5,480.5 597.6,483.1C597.7,485.7 598.5,487.7 598.4,490.0C598.2,492.3 597.9,494.2 596.7,496.8C595.6,499.4 593.1,502.5 591.5,505.4C589.9,508.3 588.3,511.6 587.3,514.0C586.3,516.4 586.4,518.4 585.5,520.0C584.6,521.6 583.4,521.9 582.2,523.9C581.0,525.9 579.6,528.1 578.3,531.7C577.0,535.3 575.3,541.4 574.3,545.4C573.2,549.4 561.0,553.6 572.0,556.0C583.0,558.4 623.7,582.7 640.0,560.0C656.3,537.3 668.3,463.3 670.0,420.0C671.7,376.7 660.0,324.2 650.0,300.0C640.0,275.8 619.7,277.5 610.0,275.0C600.3,272.5 594.9,281.9 592.0,285.0Z" fill="url(#gEU)"/>
<path d="M558.9,312.3C558.5,313.3 558.9,315.9 559.2,317.2C559.5,318.5 560.2,319.3 560.7,320.2C561.2,321.1 561.8,321.8 562.3,322.7C562.8,323.6 563.3,324.6 563.8,325.5C564.3,326.4 564.8,327.3 565.3,328.2C565.8,329.1 566.3,330.0 566.6,330.7C566.9,331.4 567.3,331.9 567.3,332.5C567.2,333.1 566.4,333.7 566.3,334.4C566.1,335.1 566.0,336.4 566.4,336.6C566.8,336.8 567.5,335.8 568.4,335.5C569.2,335.2 570.3,335.2 571.5,335.0C572.7,334.8 574.7,334.8 575.8,334.4C576.9,334.0 577.5,333.2 577.9,332.5C578.2,331.8 578.3,331.0 577.9,330.1C577.5,329.2 576.3,328.2 575.5,327.3C574.7,326.4 573.9,325.5 573.0,324.5C572.1,323.5 570.8,322.5 569.9,321.5C569.0,320.5 568.1,319.4 567.5,318.4C566.9,317.4 566.8,316.2 566.3,315.3C565.8,314.4 565.2,313.7 564.4,313.0C563.6,312.3 562.6,311.4 561.7,311.3C560.8,311.2 559.3,311.3 558.9,312.3Z" fill="url(#gUK)"/>
<path d="M553.7,324.5C554.0,324.0 554.8,323.2 555.5,322.7C556.2,322.2 557.2,321.5 558.0,321.5C558.8,321.5 559.9,322.0 560.4,322.7C560.9,323.4 561.1,324.7 561.3,325.8C561.4,326.9 561.4,328.5 561.3,329.4C561.1,330.3 561.0,330.9 560.4,331.3C559.8,331.7 558.3,332.0 557.4,331.9C556.5,331.8 555.7,331.3 555.2,330.7C554.7,330.1 554.9,329.0 554.6,328.2C554.4,327.4 553.9,326.4 553.7,325.8C553.6,325.2 553.4,325.0 553.7,324.5Z" fill="url(#gIR)"/>
<path d="M574.5,377.5C575.0,376.8 575.9,376.1 576.9,375.6C577.9,375.1 579.8,375.2 580.7,374.6C581.7,374.0 582.0,373.2 582.6,372.2C583.2,371.2 583.7,369.5 584.1,368.4C584.5,367.3 584.3,366.5 585.0,365.5C585.7,364.5 587.7,363.9 588.4,362.6C589.1,361.3 588.6,358.8 589.4,357.8C590.2,356.9 592.1,357.2 593.2,356.9C594.3,356.6 595.1,356.2 596.1,355.9C597.1,355.6 598.4,354.8 599.4,355.0C600.4,355.2 601.3,356.1 602.3,356.9C603.3,357.7 604.2,358.9 605.2,359.8C606.2,360.8 607.4,361.5 608.6,362.6C609.8,363.7 611.3,365.6 612.4,366.5C613.5,367.4 615.0,367.3 615.3,367.9C615.6,368.5 615.2,369.6 614.4,370.2C613.6,370.8 611.6,371.2 610.7,371.7C609.9,372.2 609.2,372.6 609.3,373.1C609.4,373.6 610.6,374.1 611.5,374.6C612.4,375.1 613.7,376.4 614.4,376.1C615.1,375.9 615.5,374.2 615.9,373.1C616.3,372.0 616.4,370.6 616.6,369.5C616.9,368.4 616.8,366.6 617.4,366.5C618.0,366.4 619.3,367.8 620.3,368.7C621.3,369.6 622.2,370.6 623.2,371.7C624.2,372.8 625.5,374.5 626.2,375.3C627.0,376.1 627.3,376.6 627.7,376.5C628.1,376.4 628.5,375.5 628.4,374.6C628.3,373.7 627.1,372.1 626.9,370.9C626.6,369.7 626.8,368.1 626.9,367.2C627.0,366.3 627.1,365.9 627.7,365.4C628.3,364.9 630.0,364.9 630.6,364.3C631.2,363.8 631.3,363.1 631.3,362.1C631.3,361.1 630.8,359.9 630.6,358.4C630.4,356.9 629.9,354.8 629.9,353.3C629.9,351.8 630.2,350.5 630.6,349.6C631.0,348.7 631.2,348.7 632.1,348.1C633.0,347.5 632.7,345.7 636.0,346.0C639.3,346.3 649.3,342.3 652.0,350.0C654.7,357.7 653.7,385.3 652.0,392.0C650.3,398.7 643.9,390.3 641.7,390.1C639.5,389.9 639.8,390.8 638.7,390.8C637.6,390.8 636.4,390.5 635.0,390.1C633.6,389.7 632.1,388.9 630.6,388.6C629.1,388.4 627.2,388.1 626.2,388.6C625.2,389.1 625.1,390.5 624.7,391.5C624.3,392.5 624.6,394.5 624.0,394.5C623.4,394.5 622.2,392.5 621.0,391.5C619.8,390.5 618.3,389.6 616.6,388.6C614.9,387.6 612.3,386.7 610.7,385.7C609.1,384.7 607.7,384.0 607.0,382.7C606.3,381.4 606.7,379.0 606.3,377.6C605.9,376.2 605.8,375.1 604.8,374.6C603.8,374.1 601.9,374.5 600.4,374.6C598.9,374.7 597.2,375.1 596.0,375.3C594.8,375.6 594.5,375.8 593.2,376.1C591.9,376.4 590.0,376.5 588.4,377.0C586.8,377.5 585.2,378.4 583.6,379.0C582.0,379.6 580.4,380.8 578.8,380.9C577.2,381.0 574.7,380.5 574.0,379.9C573.3,379.3 574.0,378.2 574.5,377.5Z" fill="#1e5f94"/>
<path d="M605.6,350.3C606.0,350.2 606.7,350.1 607.8,351.0C608.9,351.9 610.6,354.0 612.2,355.5C613.8,357.0 616.2,358.8 617.4,359.9C618.6,361.0 619.1,361.2 619.6,362.1C620.1,363.0 620.5,364.8 620.5,365.5C620.5,366.2 620.1,366.7 619.6,366.5C619.1,366.3 618.4,365.2 617.4,364.3C616.4,363.4 615.1,362.5 613.7,361.4C612.4,360.3 610.6,358.9 609.3,357.7C608.0,356.5 606.6,355.4 605.9,354.4C605.2,353.4 605.2,352.5 605.2,351.8C605.2,351.1 605.2,350.4 605.6,350.3Z" fill="#1e5f94"/>
<path d="M631.3,364.3C631.4,363.7 631.6,362.6 632.1,362.1C632.6,361.6 633.4,361.6 634.3,361.4C635.1,361.1 636.2,360.6 637.2,360.6C638.2,360.6 638.1,361.5 640.2,361.4C642.3,361.3 648.4,356.9 650.0,360.0C651.6,363.1 651.5,377.2 650.0,380.0C648.5,382.8 643.0,377.3 640.9,376.8C638.8,376.3 638.4,376.9 637.2,376.8C636.0,376.7 634.5,376.7 633.6,376.1C632.7,375.5 632.1,374.2 631.7,373.1C631.3,372.0 631.1,370.7 631.0,369.5C630.9,368.3 631.2,366.7 631.2,365.8C631.2,364.9 631.1,364.9 631.3,364.3Z" fill="url(#gAN)"/>
</g>
<text x="448.5" y="421.9" font-family="&quot;Liberation Sans&quot;, sans-serif" font-weight="bold" font-size="34.5" fill="#fff" stroke="#fff" stroke-width="0.8" textLength="79.2" lengthAdjust="spacingAndGlyphs">2019</text>
<g font-family="&quot;Liberation Sans&quot;, sans-serif" font-weight="bold" font-size="14.3" fill="#0e4d95" stroke="#0e4d95" stroke-width="1.05"><text><textPath href="#mp" startOffset="27.8" textLength="30.4" lengthAdjust="spacingAndGlyphs">JAN</textPath></text><text><textPath href="#mp" startOffset="117.5" textLength="28.0" lengthAdjust="spacingAndGlyphs">FEB</textPath></text><text><textPath href="#mp" startOffset="200.4" textLength="37.3" lengthAdjust="spacingAndGlyphs">MAR</textPath></text><text><textPath href="#mp" startOffset="290.1" textLength="34.3" lengthAdjust="spacingAndGlyphs">APR</textPath></text><text><textPath href="#mp" startOffset="378.2" textLength="34.3" lengthAdjust="spacingAndGlyphs">MAY</textPath></text><text><textPath href="#mp" startOffset="455.2" textLength="39.2" lengthAdjust="spacingAndGlyphs">JUNE</textPath></text><text><textPath href="#mp" startOffset="547.8" textLength="38.1" lengthAdjust="spacingAndGlyphs">JULY</textPath></text><text><textPath href="#mp" startOffset="646.1" textLength="34.1" lengthAdjust="spacingAndGlyphs">AUG</textPath></text><text><textPath href="#mp" startOffset="737.2" textLength="27.6" lengthAdjust="spacingAndGlyphs">SEP</textPath></text><text><textPath href="#mp" startOffset="825.9" textLength="27.8" lengthAdjust="spacingAndGlyphs">OCT</textPath></text><text><textPath href="#mp" startOffset="905.4" textLength="36.4" lengthAdjust="spacingAndGlyphs">NOV</textPath></text><text><textPath href="#mp" startOffset="1002.0" textLength="29.7" lengthAdjust="spacingAndGlyphs">DEC</textPath></text></g>
<g fill="none" stroke="#e6404b" stroke-width="0.72"><polyline points="667.7,200.5 610.4,267.0"/><polyline points="685.3,215.2 622.4,278.1"/><polyline points="739.7,293.8 659.4,331.4"/><polyline points="745.6,307.6 663.3,340.4"/><polyline points="754.1,329.4 667.7,352.6"/><polyline points="758.7,342.8 670.5,362.0"/><polyline points="766.0,390.5 676.5,397.3"/><polyline points="766.8,400.4 676.9,403.9"/><polyline points="766.8,414.5 677.0,413.6"/><polyline points="766.4,428.3 676.6,423.4"/><polyline points="764.4,443.3 724.6,443.3 675.3,436.4"/><polyline points="763.3,457.3 674.3,442.9"/><polyline points="758.6,478.6 731.3,478.6 670.1,462.0"/><polyline points="753.6,496.0 684.5,496.0 661.4,486.5"/><polyline points="748.8,511.7 708.5,511.7 660.1,489.5"/><polyline points="743.3,525.0 681.9,525.0 651.1,506.9"/><polyline points="737.4,538.4 697.5,538.4 649.4,509.7"/><polyline points="729.9,553.3 703.5,553.3 645.9,515.2"/><polyline points="721.2,567.4 701.7,567.4 640.3,523.2"/><polyline points="711.3,580.7 693.2,580.7 632.3,533.5"/><polyline points="793.7,591.8 695.1,591.8 630.1,536.0"/><polyline points="696.1,599.3 628.0,538.4"/><polyline points="793.7,607.1 690.3,607.1 623.5,543.2"/><polyline points="681.3,612.1 618.9,547.8"/><polyline points="793.7,622.1 684.6,622.1 616.5,550.0"/><polyline points="655.9,634.0 601.5,562.6"/><polyline points="648.3,640.4 596.2,566.4"/><polyline points="597.9,668.7 562.1,585.4"/><polyline points="585.2,674.0 553.0,589.0"/><polyline points="582.3,697.3 546.8,591.2"/><polyline points="521.5,714.4 508.7,599.5"/><polyline points="421.5,143.5 442.3,227.2"/><polyline points="470.4,713.9 476.1,600.4"/><polyline points="460.3,699.5 469.6,599.9"/><polyline points="442.1,686.3 456.6,598.2"/><polyline points="386.5,670.8 419.0,587.9"/><polyline points="356.3,657.3 398.2,578.3"/><polyline points="316.3,631.1 370.9,560.6"/><polyline points="291.6,608.5 353.8,545.5"/><polyline points="271.3,587.7 340.7,531.0"/><polyline points="258.3,568.2 330.9,517.9"/><polyline points="237.4,535.0 317.7,495.4"/><polyline points="218.4,481.2 304.1,458.8"/><polyline points="215.8,463.2 243.0,452.6 300.7,442.9"/><polyline points="213.3,448.6 243.5,448.5 300.1,439.6"/><polyline points="212.8,381.5 299.1,390.9"/><polyline points="218.7,350.0 259.4,349.6 304.5,362.0"/><polyline points="222.0,334.6 305.4,358.9"/><polyline points="244.0,281.9 320.0,322.6"/><polyline points="260.7,254.8 331.8,303.1"/><polyline points="281.7,227.8 345.9,285.2"/><polyline points="250.4,200.8 332.2,200.9 374.8,258.9"/><polyline points="250.4,190.0 356.1,190.1 391.1,248.0"/><polyline points="344.2,173.3 368.3,173.1 402.6,241.8"/><polyline points="372.6,160.0 408.4,239.0"/><polyline points="403.5,148.0 429.7,230.7"/></g>
<g fill="url(#tkd)"><polygon points="491.58,221.74 492.01,197.05 490.37,197.02 489.94,221.71"/><polygon points="391.81,247.63 379.25,226.37 377.84,227.20 390.40,248.46"/><polygon points="323.52,316.21 302.10,303.92 301.28,305.34 322.71,317.63"/><polygon points="298.01,412.83 273.31,413.15 273.33,414.79 298.03,414.47"/><polygon points="323.52,506.18 302.20,518.65 303.03,520.07 324.35,507.60"/><polygon points="394.63,576.39 382.62,597.97 384.06,598.77 396.07,577.19"/><polygon points="491.57,600.66 492.21,625.35 493.85,625.31 493.21,600.62"/><polygon points="584.59,573.94 597.34,595.10 598.74,594.25 586.00,573.09"/><polygon points="653.87,501.92 675.61,513.66 676.39,512.21 654.65,500.48"/><polygon points="676.97,407.94 701.67,407.41 701.63,405.77 676.94,406.30"/><polygon points="648.97,312.02 669.96,299.00 669.10,297.60 648.11,310.62"/><polygon points="584.60,248.46 597.16,227.20 595.75,226.37 583.19,247.63"/></g>
<g fill="#e4222b"><circle cx="667.7" cy="200.5" r="2"/><circle cx="685.3" cy="215.2" r="2"/><circle cx="739.7" cy="293.8" r="2"/><circle cx="745.6" cy="307.6" r="2"/><circle cx="754.1" cy="329.4" r="2"/><circle cx="758.7" cy="342.8" r="2"/><circle cx="766.0" cy="390.5" r="2"/><circle cx="766.8" cy="400.4" r="2"/><circle cx="766.8" cy="414.5" r="2"/><circle cx="766.4" cy="428.3" r="2"/><circle cx="764.4" cy="443.3" r="2"/><circle cx="763.3" cy="457.3" r="2"/><circle cx="758.6" cy="478.6" r="2"/><circle cx="753.6" cy="496.0" r="2"/><circle cx="748.8" cy="511.7" r="2"/><circle cx="743.3" cy="525.0" r="2"/><circle cx="737.4" cy="538.4" r="2"/><circle cx="729.9" cy="553.3" r="2"/><circle cx="721.2" cy="567.4" r="2"/><circle cx="711.3" cy="580.7" r="2"/><circle cx="793.7" cy="591.8" r="2"/><circle cx="696.1" cy="599.3" r="2"/><circle cx="793.7" cy="607.1" r="2"/><circle cx="681.3" cy="612.1" r="2"/><circle cx="793.7" cy="622.1" r="2"/><circle cx="655.9" cy="634.0" r="2"/><circle cx="648.3" cy="640.4" r="2"/><circle cx="597.9" cy="668.7" r="2"/><circle cx="585.2" cy="674.0" r="2"/><circle cx="582.3" cy="697.3" r="2"/><circle cx="521.5" cy="714.4" r="2"/><circle cx="421.5" cy="143.5" r="2"/><circle cx="470.4" cy="713.9" r="2"/><circle cx="460.3" cy="699.5" r="2"/><circle cx="442.1" cy="686.3" r="2"/><circle cx="386.5" cy="670.8" r="2"/><circle cx="356.3" cy="657.3" r="2"/><circle cx="316.3" cy="631.1" r="2"/><circle cx="291.6" cy="608.5" r="2"/><circle cx="271.3" cy="587.7" r="2"/><circle cx="258.3" cy="568.2" r="2"/><circle cx="237.4" cy="535.0" r="2"/><circle cx="218.4" cy="481.2" r="2"/><circle cx="215.8" cy="463.2" r="2"/><circle cx="213.3" cy="448.6" r="2"/><circle cx="212.8" cy="381.5" r="2"/><circle cx="218.7" cy="350.0" r="2"/><circle cx="222.0" cy="334.6" r="2"/><circle cx="244.0" cy="281.9" r="2"/><circle cx="260.7" cy="254.8" r="2"/><circle cx="281.7" cy="227.8" r="2"/><circle cx="250.4" cy="200.8" r="2"/><circle cx="250.4" cy="190.0" r="2"/><circle cx="344.2" cy="173.3" r="2"/><circle cx="372.6" cy="160.0" r="2"/><circle cx="403.5" cy="148.0" r="2"/></g>
<g font-family="&quot;Liberation Sans&quot;, sans-serif" font-size="12"><text x="673.0" y="196.8" fill="#e4222b" textLength="35.4" lengthAdjust="spacingAndGlyphs">Feb 11</text><rect x="713.8" y="187.6" width="1.3" height="10.7" fill="#231f20"/><text x="721.1" y="196.8" fill="#231f20" textLength="33.3" lengthAdjust="spacingAndGlyphs">Qatar</text><text x="693.8" y="217.1" fill="#e4222b" textLength="37.8" lengthAdjust="spacingAndGlyphs">Feb 16</text><rect x="736.6" y="207.9" width="1.3" height="10.7" fill="#231f20"/><text x="743.5" y="217.1" fill="#231f20" textLength="64.8" lengthAdjust="spacingAndGlyphs">Luxembourg</text><text x="746.0" y="295.0" fill="#e4222b" textLength="34.8" lengthAdjust="spacingAndGlyphs">Mar 8</text><rect x="785.7" y="285.8" width="1.3" height="10.7" fill="#231f20"/><text x="792.6" y="295.0" fill="#231f20" textLength="112.3" lengthAdjust="spacingAndGlyphs">United Arab Emirates</text><text x="753.1" y="310.6" fill="#e4222b" textLength="39.2" lengthAdjust="spacingAndGlyphs">Mar 11</text><rect x="797.4" y="301.4" width="1.3" height="10.7" fill="#231f20"/><text x="804.6" y="310.6" fill="#231f20" textLength="37.2" lengthAdjust="spacingAndGlyphs">Kuwait</text><text x="760.4" y="330.6" fill="#e4222b" textLength="41.3" lengthAdjust="spacingAndGlyphs">Mar 15</text><rect x="806.5" y="321.4" width="1.3" height="10.7" fill="#231f20"/><text x="813.3" y="330.6" fill="#231f20" textLength="130.2" lengthAdjust="spacingAndGlyphs">United States of America</text><text x="766.7" y="346.7" fill="#e4222b" textLength="41.2" lengthAdjust="spacingAndGlyphs">Mar 18</text><rect x="812.4" y="337.5" width="1.3" height="10.7" fill="#231f20"/><text x="818.9" y="346.7" fill="#231f20" textLength="45.2" lengthAdjust="spacingAndGlyphs">Canada</text><text x="772.5" y="391.1" fill="#e4222b" textLength="42.2" lengthAdjust="spacingAndGlyphs">Mar 29</text><rect x="819.1" y="381.9" width="1.3" height="10.7" fill="#231f20"/><text x="825.6" y="391.1" fill="#231f20" textLength="49.0" lengthAdjust="spacingAndGlyphs">Denmark</text><text x="773.7" y="404.5" fill="#e4222b" textLength="40.3" lengthAdjust="spacingAndGlyphs">Mar 31</text><rect x="818.9" y="395.3" width="1.3" height="10.7" fill="#231f20"/><text x="825.8" y="404.5" fill="#231f20" textLength="48.1" lengthAdjust="spacingAndGlyphs">Australia</text><text x="774.7" y="418.2" fill="#e4222b" textLength="31.6" lengthAdjust="spacingAndGlyphs">Apr 3</text><rect x="810.5" y="409.0" width="1.3" height="10.7" fill="#231f20"/><text x="816.7" y="418.2" fill="#231f20" textLength="44.5" lengthAdjust="spacingAndGlyphs">Sweden</text><text x="773.0" y="433.8" fill="#e4222b" textLength="31.9" lengthAdjust="spacingAndGlyphs">Apr 6</text><rect x="808.9" y="424.6" width="1.3" height="10.7" fill="#231f20"/><text x="815.0" y="433.8" fill="#231f20" textLength="158.5" lengthAdjust="spacingAndGlyphs">Finland, Belgium, Saudi Arabia</text><text x="770.6" y="449.9" fill="#e4222b" textLength="39.3" lengthAdjust="spacingAndGlyphs">Apr 10</text><rect x="814.1" y="440.7" width="1.3" height="10.7" fill="#231f20"/><text x="820.3" y="449.9" fill="#231f20" textLength="94.4" lengthAdjust="spacingAndGlyphs">Republic of Korea</text><text x="768.9" y="466.9" fill="#e4222b" textLength="38.4" lengthAdjust="spacingAndGlyphs">Apr 12</text><rect x="811.6" y="457.7" width="1.3" height="10.7" fill="#231f20"/><text x="817.9" y="466.9" fill="#231f20" textLength="56.5" lengthAdjust="spacingAndGlyphs">Singapore</text><text x="765.0" y="483.2" fill="#e4222b" textLength="38.1" lengthAdjust="spacingAndGlyphs">Apr 18</text><rect x="807.9" y="474.0" width="1.3" height="10.7" fill="#231f20"/><text x="814.7" y="483.2" fill="#231f20" textLength="45.9" lengthAdjust="spacingAndGlyphs">Norway</text><text x="759.7" y="499.3" fill="#e4222b" textLength="39.6" lengthAdjust="spacingAndGlyphs">Apr 26</text><rect x="803.9" y="490.1" width="1.3" height="10.7" fill="#231f20"/><text x="810.4" y="499.3" fill="#231f20" textLength="33.4" lengthAdjust="spacingAndGlyphs">Russia</text><text x="755.4" y="515.6" fill="#e4222b" textLength="39.1" lengthAdjust="spacingAndGlyphs">Apr 27</text><rect x="799.1" y="506.4" width="1.3" height="10.7" fill="#231f20"/><text x="805.6" y="515.6" fill="#231f20" textLength="89.1" lengthAdjust="spacingAndGlyphs">Slovenia, Ireland</text><text x="750.1" y="529.5" fill="#e4222b" textLength="36.7" lengthAdjust="spacingAndGlyphs">May 3</text><rect x="791.4" y="520.3" width="1.3" height="10.7" fill="#231f20"/><text x="797.9" y="529.5" fill="#231f20" textLength="85.3" lengthAdjust="spacingAndGlyphs">Israel, Germany</text><text x="743.4" y="543.2" fill="#e4222b" textLength="36.2" lengthAdjust="spacingAndGlyphs">May 4</text><rect x="784.5" y="534.0" width="1.3" height="10.7" fill="#231f20"/><text x="791.4" y="543.2" fill="#231f20" textLength="66.6" lengthAdjust="spacingAndGlyphs">Netherlands</text><text x="736.2" y="557.6" fill="#e4222b" textLength="36.9" lengthAdjust="spacingAndGlyphs">May 6</text><rect x="777.9" y="548.4" width="1.3" height="10.7" fill="#231f20"/><text x="784.7" y="557.6" fill="#231f20" textLength="74.5" lengthAdjust="spacingAndGlyphs">New Zealand</text><text x="727.0" y="571.0" fill="#e4222b" textLength="36.2" lengthAdjust="spacingAndGlyphs">May 9</text><rect x="764.1" y="561.8" width="1.3" height="10.7" fill="#231f20"/><text x="771.1" y="571.0" fill="#231f20" textLength="64.3" lengthAdjust="spacingAndGlyphs">Switzerland</text><text x="718.6" y="585.2" fill="#e4222b" textLength="43.8" lengthAdjust="spacingAndGlyphs">May 13</text><rect x="766.4" y="576.0" width="1.3" height="10.7" fill="#231f20"/><text x="772.5" y="585.2" fill="#231f20" textLength="34.6" lengthAdjust="spacingAndGlyphs">Japan</text><text x="801.8" y="599.0" fill="#e4222b" textLength="43.5" lengthAdjust="spacingAndGlyphs">May 14</text><rect x="849.9" y="589.8" width="1.3" height="10.7" fill="#231f20"/><text x="856.5" y="599.0" fill="#231f20" textLength="37.4" lengthAdjust="spacingAndGlyphs">France</text><text x="704.0" y="604.0" fill="#e4222b" textLength="44.4" lengthAdjust="spacingAndGlyphs">May 15</text><rect x="752.4" y="594.8" width="1.3" height="10.7" fill="#231f20"/><text x="758.5" y="604.0" fill="#231f20" textLength="24.8" lengthAdjust="spacingAndGlyphs">Italy</text><text x="801.8" y="613.0" fill="#e4222b" textLength="43.5" lengthAdjust="spacingAndGlyphs">May 17</text><rect x="849.9" y="603.8" width="1.3" height="10.7" fill="#231f20"/><text x="856.5" y="613.0" fill="#231f20" textLength="86.4" lengthAdjust="spacingAndGlyphs">United Kingdom</text><text x="687.8" y="619.4" fill="#e4222b" textLength="44.6" lengthAdjust="spacingAndGlyphs">May 19</text><rect x="736.4" y="610.2" width="1.3" height="10.7" fill="#231f20"/><text x="742.5" y="619.4" fill="#231f20" textLength="29.0" lengthAdjust="spacingAndGlyphs">Chile</text><text x="801.8" y="627.0" fill="#e4222b" textLength="44.9" lengthAdjust="spacingAndGlyphs">May 20</text><rect x="850.9" y="617.8" width="1.3" height="10.7" fill="#231f20"/><text x="857.1" y="627.0" fill="#231f20" textLength="41.3" lengthAdjust="spacingAndGlyphs">Greece</text><text x="663.8" y="640.4" fill="#e4222b" textLength="44.1" lengthAdjust="spacingAndGlyphs">May 26</text><rect x="712.4" y="631.2" width="1.3" height="10.7" fill="#231f20"/><text x="719.0" y="640.4" fill="#231f20" textLength="45.7" lengthAdjust="spacingAndGlyphs">Portugal</text><text x="649.4" y="654.8" fill="#e4222b" textLength="44.6" lengthAdjust="spacingAndGlyphs">May 28</text><rect x="698.6" y="645.6" width="1.3" height="10.7" fill="#231f20"/><text x="705.1" y="654.8" fill="#231f20" textLength="32.0" lengthAdjust="spacingAndGlyphs">Spain</text><text x="601.4" y="677.1" fill="#e4222b" textLength="29.7" lengthAdjust="spacingAndGlyphs">Jun 9</text><rect x="635.6" y="667.9" width="1.3" height="10.7" fill="#231f20"/><text x="642.2" y="677.1" fill="#231f20" textLength="50.5" lengthAdjust="spacingAndGlyphs">Bahamas</text><text x="586.5" y="690.8" fill="#e4222b" textLength="36.0" lengthAdjust="spacingAndGlyphs">Jun 12</text><rect x="627.1" y="681.6" width="1.3" height="10.7" fill="#231f20"/><text x="633.6" y="690.8" fill="#231f20" textLength="67.0" lengthAdjust="spacingAndGlyphs">Montenegro</text><text x="590.6" y="705.2" fill="#e4222b" textLength="36.7" lengthAdjust="spacingAndGlyphs">Jun 14</text><rect x="631.9" y="696.0" width="1.3" height="10.7" fill="#231f20"/><text x="638.4" y="705.2" fill="#231f20" textLength="33.2" lengthAdjust="spacingAndGlyphs">China</text><text x="526.7" y="721.6" fill="#e4222b" textLength="37.6" lengthAdjust="spacingAndGlyphs">Jun 26</text><rect x="568.9" y="712.4" width="1.3" height="10.7" fill="#231f20"/><text x="575.5" y="721.6" fill="#231f20" textLength="52.4" lengthAdjust="spacingAndGlyphs">Argentina</text><text x="418.8" y="135.4" fill="#e4222b" textLength="39.8" lengthAdjust="spacingAndGlyphs">Dec 18</text><rect x="462.9" y="126.2" width="1.3" height="10.7" fill="#231f20"/><text x="469.1" y="135.4" fill="#231f20" textLength="53.3" lengthAdjust="spacingAndGlyphs">Indonesia</text><text x="366.6" y="721.6" fill="#e4222b" textLength="26.6" lengthAdjust="spacingAndGlyphs">Jul 6</text><rect x="397.5" y="712.4" width="1.3" height="10.7" fill="#231f20"/><text x="403.8" y="721.6" fill="#231f20" textLength="64.4" lengthAdjust="spacingAndGlyphs">Iran, Bolivia</text><text x="354.6" y="706.0" fill="#e4222b" textLength="26.6" lengthAdjust="spacingAndGlyphs">Jul 8</text><rect x="385.8" y="696.8" width="1.3" height="10.7" fill="#231f20"/><text x="392.3" y="706.0" fill="#231f20" textLength="65.6" lengthAdjust="spacingAndGlyphs">South Africa</text><text x="345.7" y="691.1" fill="#e4222b" textLength="33.1" lengthAdjust="spacingAndGlyphs">Jul 12</text><rect x="383.4" y="681.9" width="1.3" height="10.7" fill="#231f20"/><text x="389.9" y="691.1" fill="#231f20" textLength="47.6" lengthAdjust="spacingAndGlyphs">Romania</text><text x="240.3" y="676.9" fill="#e4222b" textLength="33.0" lengthAdjust="spacingAndGlyphs">Jul 24</text><rect x="277.8" y="667.7" width="1.3" height="10.7" fill="#231f20"/><text x="284.3" y="676.9" fill="#231f20" textLength="99.4" lengthAdjust="spacingAndGlyphs">Ukraine, Paraguay</text><text x="275.9" y="661.3" fill="#e4222b" textLength="31.2" lengthAdjust="spacingAndGlyphs">Jul 31</text><rect x="312.2" y="652.1" width="1.3" height="10.7" fill="#231f20"/><text x="319.4" y="661.3" fill="#231f20" textLength="31.8" lengthAdjust="spacingAndGlyphs">Brazil</text><text x="200.5" y="635.8" fill="#e4222b" textLength="40.3" lengthAdjust="spacingAndGlyphs">Aug 10</text><rect x="245.3" y="626.6" width="1.3" height="10.7" fill="#231f20"/><text x="251.8" y="635.8" fill="#231f20" textLength="58.6" lengthAdjust="spacingAndGlyphs">Costa Rica</text><text x="194.5" y="613.7" fill="#e4222b" textLength="39.8" lengthAdjust="spacingAndGlyphs">Aug 17</text><rect x="239.0" y="604.5" width="1.3" height="10.7" fill="#231f20"/><text x="245.8" y="613.7" fill="#231f20" textLength="41.7" lengthAdjust="spacingAndGlyphs">Mexico</text><text x="157.6" y="591.6" fill="#e4222b" textLength="41.1" lengthAdjust="spacingAndGlyphs">Aug 23</text><rect x="203.4" y="582.4" width="1.3" height="10.7" fill="#231f20"/><text x="210.2" y="591.6" fill="#231f20" textLength="57.0" lengthAdjust="spacingAndGlyphs">Venezuela</text><text x="154.5" y="573.9" fill="#e4222b" textLength="41.6" lengthAdjust="spacingAndGlyphs">Aug 28</text><rect x="200.4" y="564.7" width="1.3" height="10.7" fill="#231f20"/><text x="206.8" y="573.9" fill="#231f20" textLength="47.4" lengthAdjust="spacingAndGlyphs">Thailand</text><text x="98.6" y="539.9" fill="#e4222b" textLength="36.7" lengthAdjust="spacingAndGlyphs" style="white-space:pre">Sep  5</text><rect x="139.8" y="530.7" width="1.3" height="10.7" fill="#231f20"/><text x="146.3" y="539.9" fill="#231f20" textLength="86.4" lengthAdjust="spacingAndGlyphs">Algeria, Djibouti</text><text x="123.5" y="481.8" fill="#e4222b" textLength="38.9" lengthAdjust="spacingAndGlyphs">Sep 17</text><rect x="166.9" y="472.6" width="1.3" height="10.7" fill="#231f20"/><text x="173.4" y="481.8" fill="#231f20" textLength="39.9" lengthAdjust="spacingAndGlyphs">Gabon</text><text x="114.3" y="466.4" fill="#e4222b" textLength="40.4" lengthAdjust="spacingAndGlyphs">Sep 22</text><rect x="159.2" y="457.2" width="1.3" height="10.7" fill="#231f20"/><text x="165.7" y="466.4" fill="#231f20" textLength="44.6" lengthAdjust="spacingAndGlyphs">Panama</text><text x="131.6" y="451.4" fill="#e4222b" textLength="40.0" lengthAdjust="spacingAndGlyphs">Sep 23</text><rect x="176.2" y="442.2" width="1.3" height="10.7" fill="#231f20"/><text x="182.9" y="451.4" fill="#231f20" textLength="24.5" lengthAdjust="spacingAndGlyphs">Peru</text><text x="112.5" y="384.8" fill="#e4222b" textLength="31.9" lengthAdjust="spacingAndGlyphs">Oct 8</text><rect x="148.5" y="375.6" width="1.3" height="10.7" fill="#231f20"/><text x="154.7" y="384.8" fill="#231f20" textLength="52.1" lengthAdjust="spacingAndGlyphs">Viet Nam</text><text x="98.6" y="352.9" fill="#e4222b" textLength="37.4" lengthAdjust="spacingAndGlyphs">Oct 17</text><rect x="140.5" y="343.7" width="1.3" height="10.7" fill="#231f20"/><text x="147.0" y="352.9" fill="#231f20" textLength="62.6" lengthAdjust="spacingAndGlyphs">El Salvador</text><text x="109.2" y="338.6" fill="#e4222b" textLength="38.2" lengthAdjust="spacingAndGlyphs">Oct 18</text><rect x="152.0" y="329.4" width="1.3" height="10.7" fill="#231f20"/><text x="158.7" y="338.6" fill="#231f20" textLength="53.8" lengthAdjust="spacingAndGlyphs">Colombia</text><text x="148.5" y="283.0" fill="#e4222b" textLength="39.9" lengthAdjust="spacingAndGlyphs">Oct 30</text><rect x="192.5" y="273.8" width="1.3" height="10.7" fill="#231f20"/><text x="198.7" y="283.0" fill="#231f20" textLength="39.2" lengthAdjust="spacingAndGlyphs">Ghana</text><text x="161.8" y="256.6" fill="#e4222b" textLength="35.1" lengthAdjust="spacingAndGlyphs">Nov 6</text><rect x="201.3" y="247.4" width="1.3" height="10.7" fill="#231f20"/><text x="207.8" y="256.6" fill="#231f20" textLength="48.0" lengthAdjust="spacingAndGlyphs">Uruguay</text><text x="163.4" y="230.2" fill="#e4222b" textLength="41.0" lengthAdjust="spacingAndGlyphs">Nov 13</text><rect x="209.1" y="221.0" width="1.3" height="10.7" fill="#231f20"/><text x="215.8" y="230.2" fill="#231f20" textLength="61.0" lengthAdjust="spacingAndGlyphs">Guatemala</text><text x="160.2" y="204.3" fill="#e4222b" textLength="42.3" lengthAdjust="spacingAndGlyphs">Nov 25</text><rect x="207.0" y="195.1" width="1.3" height="10.7" fill="#231f20"/><text x="213.6" y="204.3" fill="#231f20" textLength="32.0" lengthAdjust="spacingAndGlyphs">Egypt</text><text x="170.6" y="191.0" fill="#e4222b" textLength="31.9" lengthAdjust="spacingAndGlyphs">Dec 1</text><rect x="207.3" y="181.8" width="1.3" height="10.7" fill="#231f20"/><text x="214.2" y="191.0" fill="#231f20" textLength="31.4" lengthAdjust="spacingAndGlyphs">Cuba</text><text x="232.8" y="175.6" fill="#e4222b" textLength="33.2" lengthAdjust="spacingAndGlyphs">Dec 5</text><rect x="270.4" y="166.4" width="1.3" height="10.7" fill="#231f20"/><text x="276.8" y="175.6" fill="#231f20" textLength="58.7" lengthAdjust="spacingAndGlyphs">Nicaragua</text><text x="301.8" y="159.4" fill="#e4222b" textLength="33.2" lengthAdjust="spacingAndGlyphs">Dec 7</text><rect x="339.6" y="150.2" width="1.3" height="10.7" fill="#231f20"/><text x="346.1" y="159.4" fill="#231f20" textLength="23.3" lengthAdjust="spacingAndGlyphs">Iraq</text><text x="311.4" y="142.0" fill="#e4222b" textLength="39.2" lengthAdjust="spacingAndGlyphs">Dec 14</text><rect x="355.2" y="132.8" width="1.3" height="10.7" fill="#231f20"/><text x="361.7" y="142.0" fill="#231f20" textLength="45.8" lengthAdjust="spacingAndGlyphs">Ecuador</text></g>
<g fill="none" stroke="url(#eodu)" stroke-width="3.5">
<circle cx="39.2" cy="773.3" r="19.3"/>
<path d="M39.5,755.2 Q26,773.3 39.5,791.4 Q53,773.3 39.5,755.2 Z"/>
<line x1="20" y1="768" x2="58.5" y2="768"/><line x1="20" y1="778.3" x2="58.5" y2="778.3"/>
<path d="M52.8,759.7 C63,770 71,785 80,790 C84,792 88.5,792.6 93.65,792.6 A18.75,18.75 0 0 0 112.4,773.9 A18.75,18.75 0 0 0 93.65,755.15 A18.75,18.75 0 0 0 80.5,760.6 L78,763.5"/>
</g>
<path d="M75.2,752.4 L79,752.4 L79,764.9 L90.4,764.9 L90.4,768.6 L75.2,768.6 Z" fill="#17a366"/>
<g font-family="&quot;Liberation Sans&quot;, sans-serif" fill="#08a653" stroke="#08a653" stroke-width="0.45">
<text x="124.3" y="761.6" font-size="12.5" textLength="50" lengthAdjust="spacing">EARTH</text>
<text x="124.3" y="777.7" font-size="12.5" font-weight="bold" stroke-width="0.6" textLength="93.6" lengthAdjust="spacingAndGlyphs">OVERSHOOT</text>
<text x="124.3" y="794.6" font-size="12.5" textLength="28.6" lengthAdjust="spacing">DAY</text>
</g>
<text x="264.4" y="782.4" font-family="&quot;Liberation Sans&quot;, sans-serif" font-size="16" fill="#1c5b96" textLength="447.4" lengthAdjust="spacingAndGlyphs">Source: Global Footprint Network National Footprint Accounts 2019</text>
<g fill="#1f5f9f">
<circle cx="788.4" cy="739.6" r="2.0"/>
<circle cx="793.7" cy="737.2" r="2.2"/>
<circle cx="799.4" cy="735.8" r="2.45"/>
<circle cx="805.7" cy="735.4" r="2.75"/>
<ellipse cx="813.3" cy="739.1" rx="4.3" ry="4.8"/>
<path d="M780.3,772.1 C779.8,765 780.8,757 783.6,752 C786.5,747.5 790.5,744.2 794.2,742.9 C798,741.6 802,741.2 807.6,742 C810.5,742.6 812,745 811.9,749.2 C811.5,752 809.5,754 806.5,756.5 C803,759.2 798,761.8 794.2,763.5 C790,765.5 785,768.5 780.3,772.1 Z"/>
<path d="M784.6,773.1 C786.5,775.5 789.4,778.9 792,781 C795,783.3 798.6,787 800.4,791.3 C801.5,794.5 800.5,799.5 798,801.8 C795.5,804 791.5,804.6 788.5,804 C784.5,803.2 782,800 781.2,797 C780,793.5 780,789.4 780.3,786 C780.6,782 782.5,776.5 784.6,773.1 Z"/>
</g>
<g stroke="#fff" stroke-width="0.75" fill="none" stroke-linecap="round">
<path d="M780.9,770.5 C786,762 795,754.5 808.5,743.4"/>
<path d="M786,765.5 C785.5,763 785,761 785.3,759"/><path d="M791.5,760.5 C791.3,758 791,755 791.8,751.5"/><path d="M797.5,756 C797.5,753 797.8,750 798.3,746.5"/><path d="M803,751.5 C803.5,749.5 804,747.5 804.5,744.5"/>
<path d="M788.5,763 C789.5,765 790.5,766.5 790.8,767.5"/><path d="M796.5,757 C797.5,759 798.3,760.5 798.8,762"/><path d="M802.5,752.5 C803.5,754 804.3,755.5 804.8,757.5"/>
<path d="M784.8,774.5 C786.5,782 789.5,790 798.5,801"/>
<path d="M786.2,780 C784.5,782 783,783.5 781.3,784.5"/><path d="M788,786.5 C786,789 783.5,790.5 780.8,791.5"/><path d="M791,792.5 C789,795.5 786.5,797.5 783.5,799"/><path d="M789,781 C791,780.5 792.5,780.5 793.5,780.5"/><path d="M791.5,787 C794,786.8 796,787 797.8,787.5"/><path d="M794.5,793 C796.5,793.3 798.5,794 800.3,795"/>
</g>
<text x="807.3" y="776.1" font-family="&quot;Liberation Sans&quot;, sans-serif" font-size="14" fill="#1f5f9f" textLength="148.5" lengthAdjust="spacingAndGlyphs">Global Footprint Network</text>
<text x="807.3" y="787.8" font-family="&quot;Liberation Sans&quot;, sans-serif" font-size="8.6" fill="#1f5f9f" textLength="148.5" lengthAdjust="spacingAndGlyphs">Advancing the Science of Sustainability</text>
</svg>
</body></html>
